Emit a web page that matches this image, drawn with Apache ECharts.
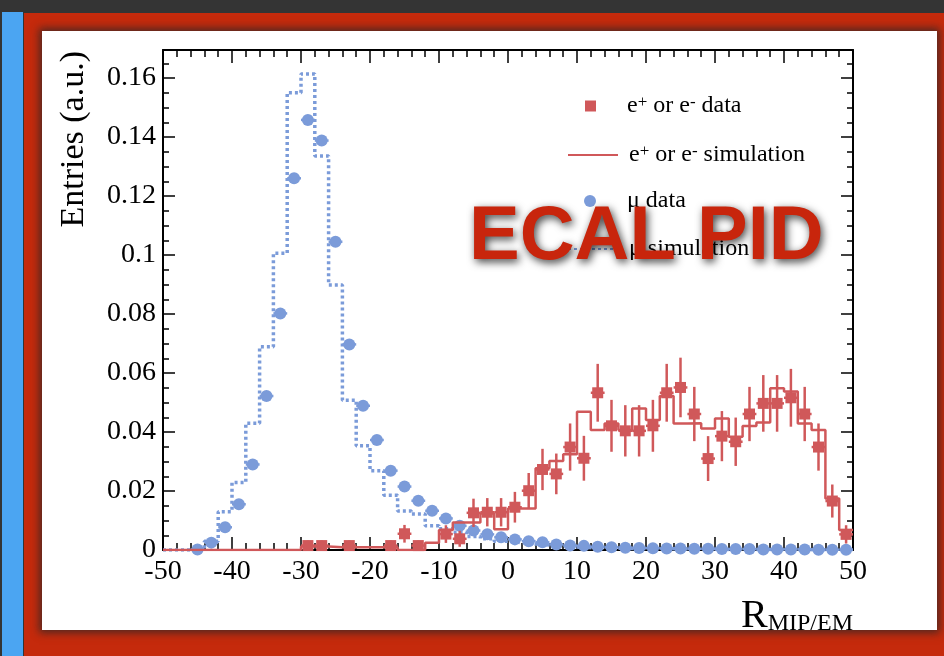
<!DOCTYPE html>
<html>
<head>
<meta charset="utf-8">
<script src="https://cdn.jsdelivr.net/npm/echarts@6/dist/echarts.min.js"></script>
<style>
  html, body { margin: 0; padding: 0; }
  body { width: 944px; height: 656px; background: #343434; position: relative; overflow: hidden; }
  #blue { position: absolute; left: 2px; top: 12px; width: 21px; height: 644px; background: #4ba5f2; }
  #red { position: absolute; left: 24px; top: 13px; width: 920px; height: 643px; background: #c52a0c; }
  #paper { position: absolute; left: 42px; top: 31px; width: 895px; height: 599px; background: #fff;
           box-shadow: 0 0 8px 3px rgba(40, 40, 40, 0.75); }
  #main { position: absolute; left: 0; top: 0; width: 944px; height: 656px; }
</style>
</head>
<body>
<div id="blue"></div>
<div id="red"></div>
<div id="paper"></div>
<div id="main"></div>
<script>
// bin centres (bins are 2 wide, -50 .. 50)
var binCenters = [-49, -47, -45, -43, -41, -39, -37, -35, -33, -31,
                  -29, -27, -25, -23, -21, -19, -17, -15, -13, -11,
                  -9, -7, -5, -3, -1, 1, 3, 5, 7, 9,
                  11, 13, 15, 17, 19, 21, 23, 25, 27, 29,
                  31, 33, 35, 37, 39, 41, 43, 45, 47, 49];

// mu simulation (dotted histogram)
var muSim = [0, 0, 0.0004, 0.003, 0.013, 0.0229, 0.043, 0.0689, 0.1006, 0.155,
             0.1614, 0.1336, 0.0898, 0.0508, 0.0353, 0.0269, 0.0186, 0.0132, 0.0122, 0.0082,
             0.0072, 0.006, 0.0046, 0.0038, 0.003, 0.0025, 0.002, 0.0017, 0.0013, 0.001,
             0.0008, 0.0007, 0.0006, 0.0005, 0.0005, 0.0004, 0.0004, 0.0003, 0.0003, 0.0003,
             0.0002, 0.0002, 0.0002, 0.0002, 0.0002, 0.0001, 0.0001, 0.0001, 0.0001, 0.0001];

// mu data (dots)
var muData = [null, null, 0.0002, 0.0025, 0.0077, 0.0155, 0.029, 0.0522, 0.0802, 0.126,
              0.1458, 0.1388, 0.1045, 0.0697, 0.0489, 0.0373, 0.0269, 0.0215, 0.0167, 0.0133,
              0.0107, 0.0082, 0.0066, 0.0053, 0.0043, 0.0036, 0.003, 0.0026, 0.0019, 0.0015,
              0.0014, 0.0011, 0.0009, 0.0008, 0.0007, 0.0006, 0.0005, 0.0005, 0.0004, 0.0004,
              0.0003, 0.0003, 0.0003, 0.0002, 0.0002, 0.0002, 0.0002, 0.0001, 0.0001, 0.0001];

// e+/e- simulation (solid histogram)
var eSim = [0, 0, 0, 0, 0, 0, 0, 0, 0, 0,
            0.0012, 0.0012, 0.0009, 0.0009, 0.0009, 0.0009, 0.0009, 0, 0, 0.0025,
            0.0068, 0.0093, 0.0093, 0.0124, 0.007, 0.0141, 0.0141, 0.0277, 0.0302, 0.0325,
            0.0469, 0.0407, 0.0429, 0.0407, 0.048, 0.0441, 0.0522, 0.0429, 0.043, 0.0412,
            0.0446, 0.0384, 0.042, 0.0432, 0.0548, 0.0537, 0.0429, 0.0407, 0.0175, 0.0068];

// e+/e- data (squares) and their errors
var eData = [null, null, null, null, null, null, null, null, null, null,
             0.0015, 0.0015, null, 0.0015, null, null, 0.0015, 0.0055, 0.0015, null,
             0.0054, 0.0038, 0.0126, 0.0128, 0.0128, 0.0145, 0.0201, 0.0273, 0.0258, 0.0349,
             0.0311, 0.0533, 0.0421, 0.0404, 0.0404, 0.0421, 0.0533, 0.0551, 0.0461, 0.031,
             0.0386, 0.0367, 0.0461, 0.0497, 0.0497, 0.0516, 0.0461, 0.0349, 0.0166, 0.0053];
var eErr = [null, null, null, null, null, null, null, null, null, null,
            0.0017, 0.0017, null, 0.0017, null, null, 0.0017, 0.003, 0.0017, null,
            0.003, 0.0027, 0.0048, 0.0048, 0.0048, 0.0052, 0.006, 0.007, 0.0069, 0.008,
            0.0076, 0.0098, 0.0088, 0.0087, 0.0087, 0.0088, 0.0098, 0.0101, 0.0092, 0.0076,
            0.0085, 0.0082, 0.0092, 0.0096, 0.0096, 0.0098, 0.0092, 0.008, 0.0056, 0.0031];

var RED = '#d0585a';
var BLUE = '#7b9bd9';
var SERIF = '"Liberation Serif", "DejaVu Serif", serif';

// step line points: low edge of each bin, plus the last high edge
function stepPoints(vals) {
  var pts = [];
  for (var i = 0; i < binCenters.length; i++) pts.push([binCenters[i] - 1, vals[i]]);
  pts.push([binCenters[binCenters.length - 1] + 1, vals[vals.length - 1]]);
  return pts;
}
function points(vals, errs) {
  var pts = [];
  for (var i = 0; i < binCenters.length; i++) {
    if (vals[i] == null) continue;
    pts.push(errs ? [binCenters[i], vals[i], errs[i]] : [binCenters[i], vals[i], 0]);
  }
  return pts;
}

function errorBars(params, api) {
  var x = api.value(0), y = api.value(1), e = api.value(2);
  var st = { stroke: api.visual('color'), lineWidth: 2.5 };
  var l = api.coord([x - 1, y]), r = api.coord([x + 1, y]);
  var kids = [{ type: 'line', shape: { x1: l[0], y1: l[1], x2: r[0], y2: r[1] }, style: st }];
  if (e > 0) {
    var t = api.coord([x, y + e]), b = api.coord([x, Math.max(0, y - e)]);
    kids.push({ type: 'line', shape: { x1: t[0], y1: t[1], x2: b[0], y2: b[1] }, style: st });
  }
  return { type: 'group', children: kids };
}

var chart = echarts.init(document.getElementById('main'));

var labelFont = { fontFamily: SERIF, fontSize: 28, color: '#000' };
var lineBlack = { show: true, onZero: false, lineStyle: { color: '#000', width: 2 } };
var noLine = { show: false, onZero: false };
var tickMajor = { inside: true, length: 12, lineStyle: { color: '#000', width: 1.5 } };
var tickMinor = { inside: true, length: 6, lineStyle: { color: '#000', width: 1.5 } };

function legendItem(name, icon, top, left, w, h, padLeft) {
  return {
    data: [icon ? { name: name, icon: icon } : name], orient: 'vertical', top: top, left: left, padding: 0,
    itemWidth: w, itemHeight: h, selectedMode: false,
    itemStyle: icon ? {} : { opacity: 0 },
    formatter: function (n) {
      if (n === 'e+ or e- data') return 'e{sup|+} or e{sup|-} data';
      if (n === 'e+ or e- simulation') return 'e{sup|+} or e{sup|-} simulation';
      return n;
    },
    textStyle: {
      fontFamily: SERIF, fontSize: 24, color: '#000', padding: [0, 0, 0, padLeft],
      rich: { sup: { fontFamily: SERIF, fontSize: 17, verticalAlign: 'top', color: '#000' } }
    }
  };
}

var option = {
  animation: false,
  grid: { left: 163, right: 91, top: 50, bottom: 106 },
  xAxis: [
    {
      type: 'value', min: -50, max: 50, interval: 10, position: 'bottom',
      axisLine: lineBlack,
      axisTick: { inside: true, length: 13, lineStyle: { color: '#000', width: 1.5 } },
      minorTick: { show: true, splitNumber: 5, length: 7, lineStyle: { color: '#000', width: 1.5 } },
      axisLabel: Object.assign({ margin: 8 }, labelFont),
      splitLine: { show: false },
      name: '{r|R}{s|MIP/EM}', nameLocation: 'end', nameGap: 0,
      nameTextStyle: {
        align: 'right', verticalAlign: 'top', padding: [46, 0, 0, 0],
        rich: {
          r: { fontFamily: SERIF, fontSize: 40, color: '#000', verticalAlign: 'bottom' },
          s: { fontFamily: SERIF, fontSize: 24, color: '#000', verticalAlign: 'bottom' }
        }
      }
    },
    {
      type: 'value', min: -50, max: 50, interval: 10, position: 'top',
      axisLine: lineBlack,
      axisTick: { inside: true, length: 13, lineStyle: { color: '#000', width: 1.5 } },
      minorTick: { show: true, splitNumber: 5, length: 7, lineStyle: { color: '#000', width: 1.5 } },
      axisLabel: { show: false }, splitLine: { show: false }
    }
  ],
  yAxis: [
    {
      type: 'value', min: 0, max: 0.1695, interval: 0.02, position: 'left',
      axisLine: lineBlack, axisTick: tickMajor,
      axisLabel: Object.assign({ margin: 7, showMaxLabel: false }, labelFont),
      splitLine: { show: false }
    },
    {
      type: 'value', min: 0, max: 0.1695, interval: 0.005, position: 'left',
      axisLine: noLine, axisTick: tickMinor,
      axisLabel: { show: false }, splitLine: { show: false }
    },
    {
      type: 'value', min: 0, max: 0.1695, interval: 0.02, position: 'right',
      axisLine: lineBlack, axisTick: tickMajor,
      axisLabel: { show: false }, splitLine: { show: false }
    },
    {
      type: 'value', min: 0, max: 0.1695, interval: 0.005, position: 'right',
      axisLine: noLine, axisTick: tickMinor,
      axisLabel: { show: false }, splitLine: { show: false }
    }
  ],
  legend: [
    legendItem('e+ or e- data', 'rect', 94, 585, 11, 11, 26),
    legendItem('e+ or e- simulation', null, 143, 567, 50, 12, 6),
    legendItem('μ data', 'circle', 189, 584, 12, 12, 26),
    legendItem('μ simulation', null, 237, 567, 50, 12, 6)
  ],
  series: [
    {
      name: 'μ simulation', type: 'line', step: 'end', symbol: 'none',
      data: stepPoints(muSim), color: BLUE,
      lineStyle: { color: BLUE, width: 3.5, type: [3, 3] }, z: 2
    },
    {
      name: 'μ data', type: 'scatter', symbol: 'circle', symbolSize: 12,
      data: points(muData, null), itemStyle: { color: BLUE, opacity: 1 }, z: 3
    },
    {
      name: 'μ data', type: 'custom', renderItem: errorBars,
      data: points(muData, null), itemStyle: { color: BLUE }, z: 3
    },
    {
      name: 'e+ or e- simulation', type: 'line', step: 'end', symbol: 'none',
      data: stepPoints(eSim), color: RED,
      lineStyle: { color: RED, width: 2.5 }, z: 4
    },
    {
      name: 'e+ or e- data', type: 'scatter', symbol: 'rect', symbolSize: 11,
      data: points(eData, eErr), itemStyle: { color: RED, opacity: 1 }, z: 5
    },
    {
      name: 'e+ or e- data', type: 'custom', renderItem: errorBars,
      data: points(eData, eErr), itemStyle: { color: RED }, z: 5
    }
  ],
  graphic: [
    {
      type: 'text', x: 57, y: 51, rotation: Math.PI / 2,
      style: { text: 'Entries (a.u.)', fontFamily: SERIF, fontSize: 34, fill: '#000',
               align: 'right', verticalAlign: 'top' }
    },
    {
      type: 'text', left: 469, top: 200, z: 100,
      style: {
        text: 'ECAL PID', fontFamily: '"Liberation Sans", Arial, sans-serif', fontWeight: 'bold',
        fontSize: 76, fill: '#c8250c',
        textShadowColor: 'rgba(0,0,0,0.75)', textShadowBlur: 9, textShadowOffsetX: 2, textShadowOffsetY: 3
      }
    }
  ]
};

chart.setOption(option);
</script>
</body>
</html>
